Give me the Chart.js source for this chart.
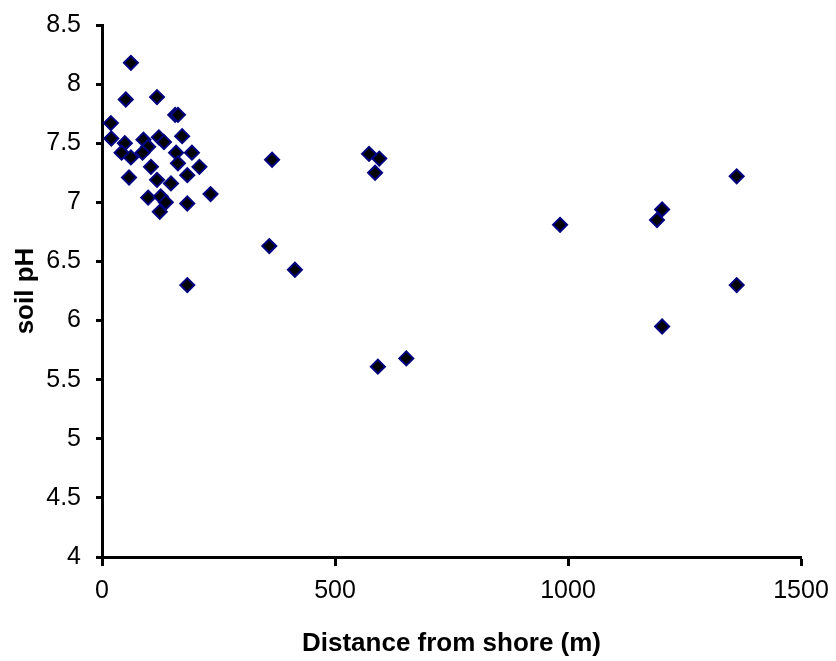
<!DOCTYPE html>
<html>
<head>
<meta charset="utf-8">
<script src="https://cdn.jsdelivr.net/npm/chart.js@4.4.0/dist/chart.umd.min.js"></script>
<style>
    html, body { margin: 0; padding: 0; background: #fff; }
    canvas { display: block; }
</style>
</head>
<body>
<canvas id="chart" width="836" height="661"></canvas>
<script>
// distance from shore (m) and soil pH
const distance = [
    62, 51, 118, 157, 163, 19, 20, 49, 42, 62,
    89, 99, 87, 122, 133, 172, 159, 193, 163, 105,
    209, 58, 183, 118, 148, 233, 99, 126, 137, 183,
    124, 183,
    365, 573, 595, 586, 359, 414, 592, 653,
    983, 1202, 1191, 1362, 1362, 1202
];
const soilPH = [
    8.18, 7.87, 7.89, 7.74, 7.74, 7.67, 7.54, 7.50, 7.42, 7.38,
    7.53, 7.47, 7.42, 7.55, 7.51, 7.56, 7.42, 7.42, 7.33, 7.30,
    7.30, 7.21, 7.23, 7.19, 7.16, 7.07, 7.04, 7.05, 7.00, 6.99,
    6.92, 6.30,
    7.36, 7.41, 7.37, 7.25, 6.63, 6.43, 5.61, 5.68,
    6.81, 6.94, 6.85, 7.22, 6.30, 5.95
];
const xTitle = "Distance from shore (m)";
const yTitle = "soil pH";

const points = distance.map((d, i) => ({x: d, y: soilPH[i]}));

const tickFont = {family: "'Liberation Sans', Arial, sans-serif", size: 25};
const titleFont = {family: "'Liberation Sans', Arial, sans-serif", size: 26, weight: "bold"};
const plain = (value) => String(value);

new Chart(document.getElementById("chart").getContext("2d"), {
    type: "scatter",
    data: {
        datasets: [{
            data: points,
            pointStyle: "rectRot",
            pointRadius: 7,
            pointHoverRadius: 7,
            backgroundColor: "#000000",
            borderColor: "#000080",
            borderWidth: 2
        }]
    },
    options: {
        responsive: false,
        animation: false,
        layout: {
            padding: {top: 25, right: 35, bottom: 0, left: 0}
        },
        plugins: {
            legend: {display: false},
            tooltip: {enabled: false}
        },
        scales: {
            x: {
                type: "linear",
                min: 0,
                max: 1500,
                ticks: {stepSize: 500, color: "#000", font: tickFont, padding: 10, maxRotation: 0, callback: plain},
                grid: {drawOnChartArea: false, drawTicks: true, tickLength: 9, tickWidth: 3, color: "#000"},
                border: {display: true, width: 3, color: "#000"},
                title: {display: true, text: xTitle, color: "#000", font: titleFont, padding: {top: 0, bottom: 2}},
                afterFit: (scale) => {
                    scale.height = 104;
                    scale.paddingLeft = 0;
                    scale.paddingRight = 0;
                }
            },
            y: {
                type: "linear",
                min: 4,
                max: 8.5,
                ticks: {stepSize: 0.5, color: "#000", font: tickFont, padding: 15, callback: plain},
                grid: {drawOnChartArea: false, drawTicks: true, tickLength: 6, tickWidth: 3, color: "#000"},
                border: {display: true, width: 3, color: "#000"},
                title: {display: true, text: yTitle, color: "#000", font: titleFont, padding: {top: 10, bottom: 0}},
                afterFit: (scale) => {
                    scale.width = 102;
                    scale.paddingTop = 0;
                    scale.paddingBottom = 0;
                }
            }
        }
    }
});
</script>
</body>
</html>
